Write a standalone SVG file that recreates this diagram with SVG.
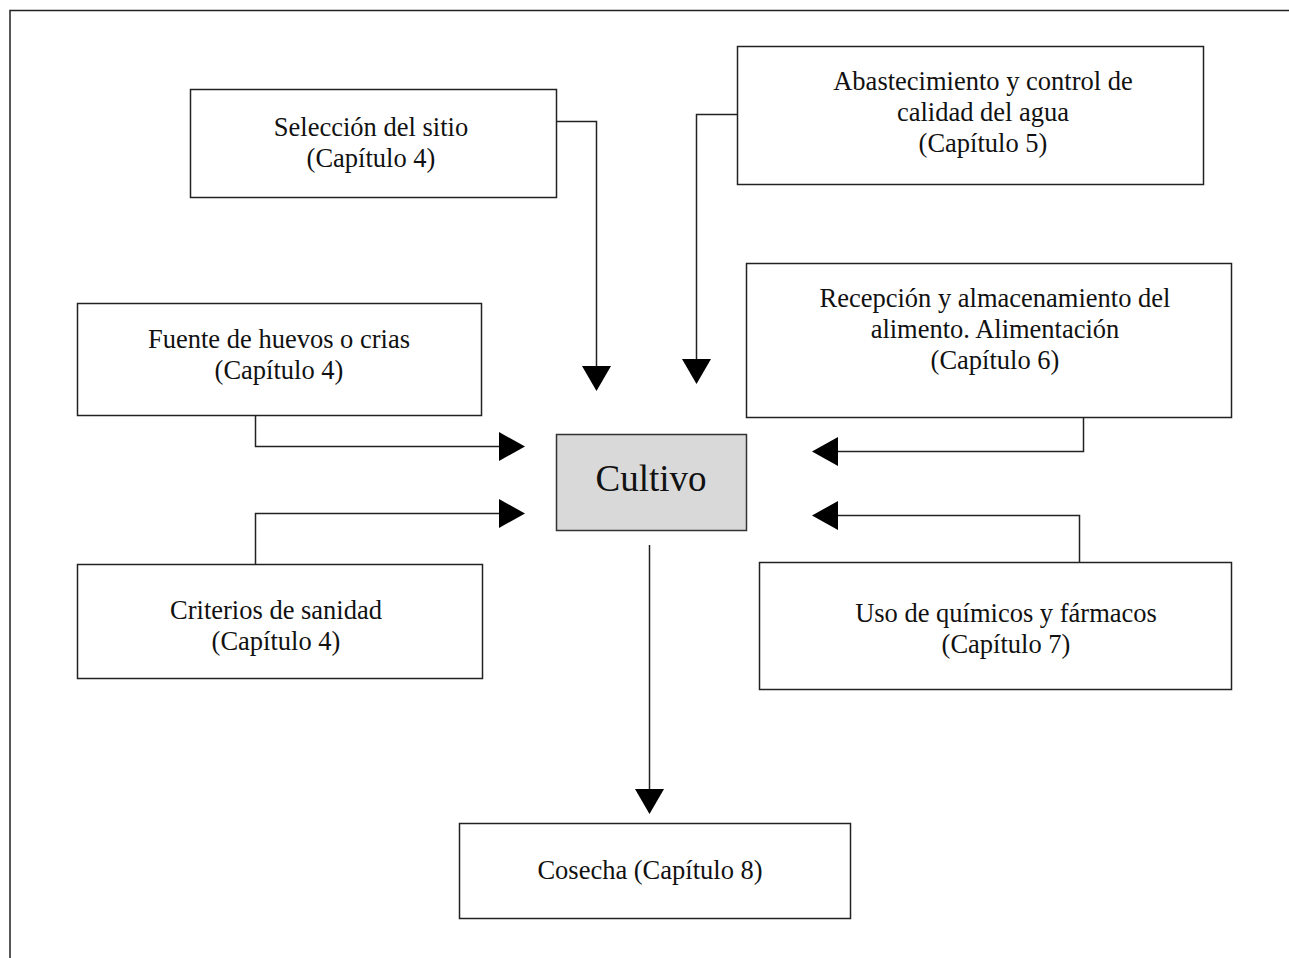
<svg xmlns="http://www.w3.org/2000/svg" width="1289" height="958" viewBox="0 0 1289 958">
<style>
.box{fill:#fff;stroke:#222;stroke-width:1.5}
.core{fill:#d9d9d9;stroke:#333;stroke-width:1.5}
.t{font-family:"Liberation Serif","Times New Roman",serif;font-size:26.5px;fill:#111;text-anchor:middle}
.big{font-size:37px}
.ln{fill:none;stroke:#222;stroke-width:1.5}
.ah{fill:#000;stroke:none}
</style>
<rect width="1289" height="958" fill="#fff"/>
<path d="M10 958 V10.5 H1289" fill="none" stroke="#222" stroke-width="1.5"/>
<g id="seleccion">
<rect class="box" x="190.5" y="89.5" width="366" height="108"/>
<text class="t" x="371" y="136">Selección del sitio</text>
<text class="t" x="371" y="167">(Capítulo 4)</text>
</g>
<g id="abastecimiento">
<rect class="box" x="737.5" y="46.5" width="466" height="138"/>
<text class="t" x="983" y="90">Abastecimiento y control de</text>
<text class="t" x="983" y="121">calidad del agua</text>
<text class="t" x="983" y="152">(Capítulo 5)</text>
</g>
<g id="fuente">
<rect class="box" x="77.5" y="303.5" width="404" height="112"/>
<text class="t" x="279" y="348">Fuente de huevos o crias</text>
<text class="t" x="279" y="379">(Capítulo 4)</text>
</g>
<g id="recepcion">
<rect class="box" x="746.5" y="263.5" width="485" height="154"/>
<text class="t" x="995" y="307">Recepción y almacenamiento del</text>
<text class="t" x="995" y="338">alimento. Alimentación</text>
<text class="t" x="995" y="369">(Capítulo 6)</text>
</g>
<g id="cultivo">
<rect class="core" x="556.5" y="434.5" width="190" height="96"/>
<text class="t big" x="651" y="491">Cultivo</text>
</g>
<g id="criterios">
<rect class="box" x="77.5" y="564.5" width="405" height="114"/>
<text class="t" x="276" y="619">Criterios de sanidad</text>
<text class="t" x="276" y="650">(Capítulo 4)</text>
</g>
<g id="uso">
<rect class="box" x="759.5" y="562.5" width="472" height="127"/>
<text class="t" x="1006" y="622">Uso de químicos y fármacos</text>
<text class="t" x="1006" y="653">(Capítulo 7)</text>
</g>
<g id="cosecha">
<rect class="box" x="459.5" y="823.5" width="391" height="95"/>
<text class="t" x="650" y="879">Cosecha (Capítulo 8)</text>
</g>
<g id="connectors">
<path class="ln" d="M556.5 121.5 H596.5 V368"/>
<polygon class="ah" points="582,366 611,366 596.5,391"/>
<path class="ln" d="M737.5 114.5 H696.5 V361"/>
<polygon class="ah" points="682,359 711,359 696.5,384"/>
<path class="ln" d="M255.5 415.5 V446.5 H501"/>
<polygon class="ah" points="499,432 499,461 525,446.5"/>
<path class="ln" d="M255.5 564.5 V513.5 H501"/>
<polygon class="ah" points="499,499 499,528 525,513.5"/>
<path class="ln" d="M1083.5 417.5 V451.5 H836"/>
<polygon class="ah" points="838,437 838,466 812,451.5"/>
<path class="ln" d="M1079.5 562.5 V515.5 H836"/>
<polygon class="ah" points="838,501 838,530 812,515.5"/>
<path class="ln" d="M649.5 545 V791"/>
<polygon class="ah" points="635,789 664,789 649.5,814"/>
</g>
</svg>
